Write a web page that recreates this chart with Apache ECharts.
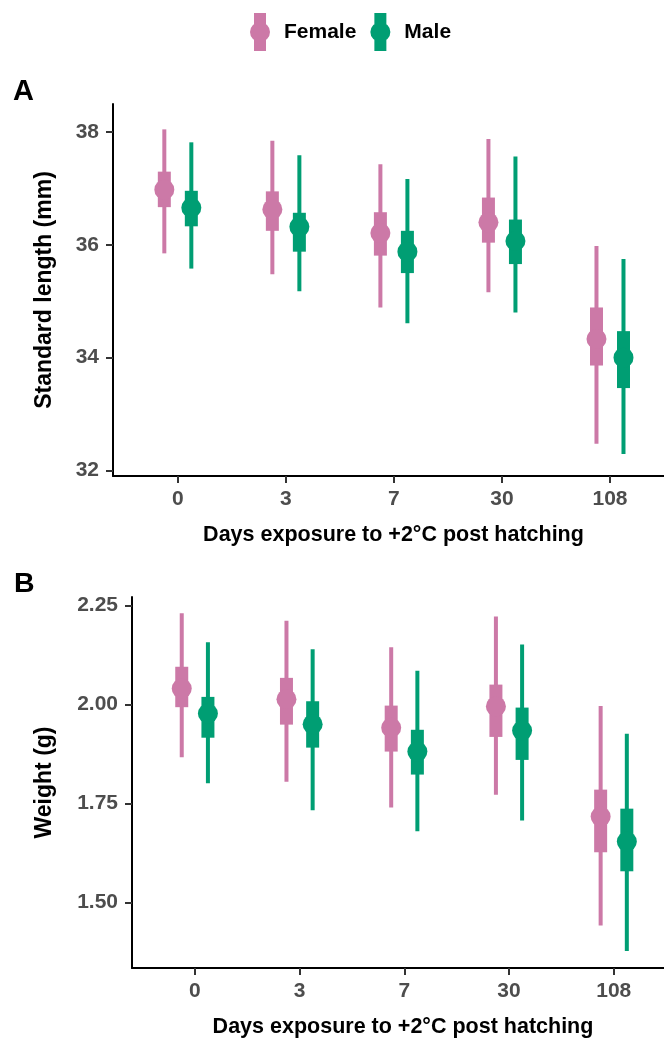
<!DOCTYPE html>
<html>
<head>
<meta charset="utf-8">
<script src="https://cdn.jsdelivr.net/npm/echarts@6/dist/echarts.min.js"></script>
<style>html,body{margin:0;padding:0;background:#fff;}#c{width:664px;height:1043px;}</style>
</head>
<body>
<div id="c"></div>
<script>
const categories = ['0', '3', '7', '30', '108'];
const seriesNames = ['Female', 'Male'];

// Panel A: Standard length (mm)
const lengthFemaleMean = [36.98, 36.63, 36.21, 36.40, 34.33];
const lengthFemaleLo66 = [36.67, 36.25, 35.81, 36.04, 33.86];
const lengthFemaleHi66 = [37.30, 36.95, 36.58, 36.84, 34.89];
const lengthFemaleLo95 = [35.85, 35.48, 34.89, 35.16, 32.47];
const lengthFemaleHi95 = [38.05, 37.85, 37.43, 37.88, 35.98];
const lengthMaleMean = [36.66, 36.32, 35.88, 36.07, 34.00];
const lengthMaleLo66 = [36.33, 35.88, 35.50, 35.66, 33.46];
const lengthMaleHi66 = [36.96, 36.57, 36.25, 36.45, 34.47];
const lengthMaleLo95 = [35.58, 35.18, 34.61, 34.80, 32.29];
const lengthMaleHi95 = [37.82, 37.59, 37.17, 37.57, 35.75];

// Panel B: Weight (g)
const weightFemaleMean = [2.040, 2.013, 1.941, 1.995, 1.717];
const weightFemaleLo66 = [1.993, 1.949, 1.881, 1.918, 1.627];
const weightFemaleHi66 = [2.095, 2.067, 1.997, 2.050, 1.785];
const weightFemaleLo95 = [1.867, 1.805, 1.740, 1.772, 1.442];
const weightFemaleHi95 = [2.230, 2.211, 2.144, 2.222, 1.996];
const weightMaleMean = [1.977, 1.950, 1.881, 1.934, 1.654];
const weightMaleLo66 = [1.916, 1.891, 1.823, 1.860, 1.579];
const weightMaleHi66 = [2.019, 2.008, 1.936, 1.992, 1.737];
const weightMaleLo95 = [1.801, 1.733, 1.680, 1.707, 1.378];
const weightMaleHi95 = [2.157, 2.139, 2.085, 2.151, 1.926];

const lengthTicks = [32, 34, 36, 38];
const weightTicks = [1.50, 1.75, 2.00, 2.25];

const PINK = '#CC79A7', GREEN = '#009E73';
const FONT = "'Liberation Sans', Arial, sans-serif";
const DODGE = 0.125;

function rows(mean, lo66, hi66, lo95, hi95) {
  return categories.map((c, i) => [i, mean[i], lo66[i], hi66[i], lo95[i], hi95[i]]);
}

function makeRender(dodge, color) {
  return function (params, api) {
    const x = api.value(0) + dodge;
    const pm = api.coord([x, api.value(1)]);
    const l66 = api.coord([x, api.value(2)]);
    const h66 = api.coord([x, api.value(3)]);
    const l95 = api.coord([x, api.value(4)]);
    const h95 = api.coord([x, api.value(5)]);
    return {
      type: 'group',
      children: [
        { type: 'rect', shape: { x: pm[0] - 2, y: h95[1], width: 4, height: l95[1] - h95[1] }, style: { fill: color } },
        { type: 'rect', shape: { x: pm[0] - 6.5, y: h66[1], width: 13, height: l66[1] - h66[1] }, style: { fill: color } },
        { type: 'circle', shape: { cx: pm[0], cy: pm[1], r: 10 }, style: { fill: color } }
      ]
    };
  };
}

function xAxis(gridIndex, max) {
  return {
    type: 'value', gridIndex: gridIndex, min: -0.6, max: max,
    splitLine: { show: false },
    axisLine: { show: true, onZero: false, lineStyle: { color: '#000', width: 2 } },
    axisTick: { show: true, length: 7, lineStyle: { color: '#333', width: 2 }, customValues: [0, 1, 2, 3, 4] },
    axisLabel: {
      customValues: [0, 1, 2, 3, 4], margin: 13,
      formatter: v => categories[Math.round(v)] || '',
      color: '#4D4D4D', fontSize: 21, fontWeight: 'bold', fontFamily: FONT
    },
    name: 'Days exposure to +2°C post hatching', nameLocation: 'middle', nameGap: 48,
    nameTextStyle: { color: '#000', fontSize: 21.5, fontWeight: 'bold', fontFamily: FONT, padding: [0, 0, 0, 10] }
  };
}

function yAxis(gridIndex, min, max, ticks, name, gap, fmt) {
  return {
    type: 'value', gridIndex: gridIndex, min: min, max: max,
    splitLine: { show: false },
    axisLine: { show: true, onZero: false, lineStyle: { color: '#000', width: 2 } },
    axisTick: { show: true, length: 7, lineStyle: { color: '#333', width: 2 }, customValues: ticks },
    axisLabel: {
      customValues: ticks, margin: 14, formatter: fmt,
      color: '#4D4D4D', fontSize: 21, fontWeight: 'bold', fontFamily: FONT
    },
    name: name, nameLocation: 'middle', nameGap: gap,
    nameTextStyle: { color: '#000', fontSize: 23, fontWeight: 'bold', fontFamily: FONT }
  };
}

const ICON = 'path://M4,0 H16 V38 H4 Z M0,19 A10,10 0 1 1 20,19 A10,10 0 1 1 0,19 Z';

const option = {
  animation: false,
  backgroundColor: '#fff',
  legend: {
    left: 245, top: 8, itemWidth: 20, itemHeight: 38, itemGap: 14,
    data: seriesNames.map((n, i) => ({ name: n, icon: ICON, itemStyle: { color: i === 0 ? PINK : GREEN } })),
    textStyle: { color: '#000', fontSize: 21, fontWeight: 'bold', fontFamily: FONT, padding: [0, 0, 0, 9] },
    selectedMode: false
  },
  graphic: [
    { type: 'text', left: 13, top: 77, style: { text: 'A', fontSize: 29, fontWeight: 'bold', fontFamily: FONT, fill: '#000' } },
    { type: 'text', left: 14, top: 570, style: { text: 'B', fontSize: 28.5, fontWeight: 'bold', fontFamily: FONT, fill: '#000' } }
  ],
  grid: [
    { left: 113, top: 104, right: 0, height: 372 },
    { left: 132, top: 597, right: 0, height: 371 }
  ],
  xAxis: [xAxis(0, 4.5), xAxis(1, 4.48)],
  yAxis: [
    yAxis(0, 31.9, 38.5, lengthTicks, 'Standard length (mm)', 56.5, v => String(v)),
    yAxis(1, 1.335, 2.271, weightTicks, 'Weight (g)', 75.5, v => v.toFixed(2))
  ],
  series: [
    { type: 'custom', name: 'Female', xAxisIndex: 0, yAxisIndex: 0, itemStyle: { color: PINK },
      renderItem: makeRender(-DODGE, PINK),
      data: rows(lengthFemaleMean, lengthFemaleLo66, lengthFemaleHi66, lengthFemaleLo95, lengthFemaleHi95) },
    { type: 'custom', name: 'Male', xAxisIndex: 0, yAxisIndex: 0, itemStyle: { color: GREEN },
      renderItem: makeRender(DODGE, GREEN),
      data: rows(lengthMaleMean, lengthMaleLo66, lengthMaleHi66, lengthMaleLo95, lengthMaleHi95) },
    { type: 'custom', name: 'Female', xAxisIndex: 1, yAxisIndex: 1, itemStyle: { color: PINK },
      renderItem: makeRender(-DODGE, PINK),
      data: rows(weightFemaleMean, weightFemaleLo66, weightFemaleHi66, weightFemaleLo95, weightFemaleHi95) },
    { type: 'custom', name: 'Male', xAxisIndex: 1, yAxisIndex: 1, itemStyle: { color: GREEN },
      renderItem: makeRender(DODGE, GREEN),
      data: rows(weightMaleMean, weightMaleLo66, weightMaleHi66, weightMaleLo95, weightMaleHi95) }
  ]
};

const chart = echarts.init(document.getElementById('c'), null, { renderer: 'canvas' });
chart.setOption(option);
</script>
</body>
</html>
